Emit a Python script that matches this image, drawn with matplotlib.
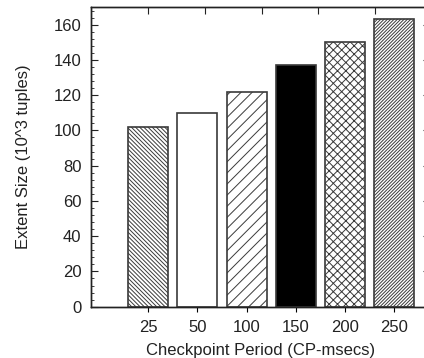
import numpy as np
import matplotlib
matplotlib.use("Agg")
import matplotlib.pyplot as plt
from matplotlib.ticker import MultipleLocator

# data
periods = ["25", "50", "100", "150", "200", "250"]
extent_size = [102, 110, 122, 137, 150, 163]

bar_faces = ["white", "white", "white", "black", "white", "white"]
bar_hatches = ["\\" * 8, "", "///", "", "xxxx", "/" * 10]

plt.rcParams["font.family"] = ["Liberation Sans", "DejaVu Sans"]
plt.rcParams["hatch.linewidth"] = 0.7

ink = "#222222"
edge = "#3a3a3a"
fs = 12

fig = plt.figure(figsize=(4.24, 3.58), dpi=100)
ax = fig.add_axes([0.2146, 0.1433, 0.7995, 0.8371])

x = np.arange(len(periods))
for i in range(len(periods)):
    ax.bar(x[i], extent_size[i], width=0.813, color=bar_faces[i],
           edgecolor=edge, hatch=bar_hatches[i], linewidth=1.2, zorder=2)

ax.set_xlim(-1.165, 5.726)
ax.set_ylim(0, 170)

ax.set_xticks(x)
ax.set_xticklabels(periods)
ax.tick_params(axis="x", bottom=False, top=False, pad=6, labelsize=fs,
               labelcolor=ink)

ax.yaxis.set_major_locator(MultipleLocator(20))
ax.yaxis.set_minor_locator(MultipleLocator(4))
ax.tick_params(axis="y", which="major", direction="in", length=4.8, width=0.8,
               left=True, right=True, labelsize=fs, labelcolor=ink, pad=7,
               color=ink)
ax.tick_params(axis="y", which="minor", direction="in", length=2.4, width=0.6,
               left=True, right=True, color=ink)

# gnuplot-style mirrored ticks on top, not lined up with the bars
top = ax.twiny()
top.set_xlim(ax.get_xlim())
top.set_xticks(np.arange(5) * 1.153)
top.tick_params(axis="x", direction="in", length=4.8, width=0.8, labeltop=False,
                color=ink)

for a in (ax, top):
    for s in a.spines.values():
        s.set_color(ink)
        s.set_linewidth(1.0)

ax.set_xlabel("Checkpoint Period (CP-msecs)", fontsize=fs, color=ink, labelpad=6)
ax.set_ylabel("Extent Size (10^3 tuples)", fontsize=fs, color=ink, labelpad=16)

fig.savefig("out.png", dpi=100)
